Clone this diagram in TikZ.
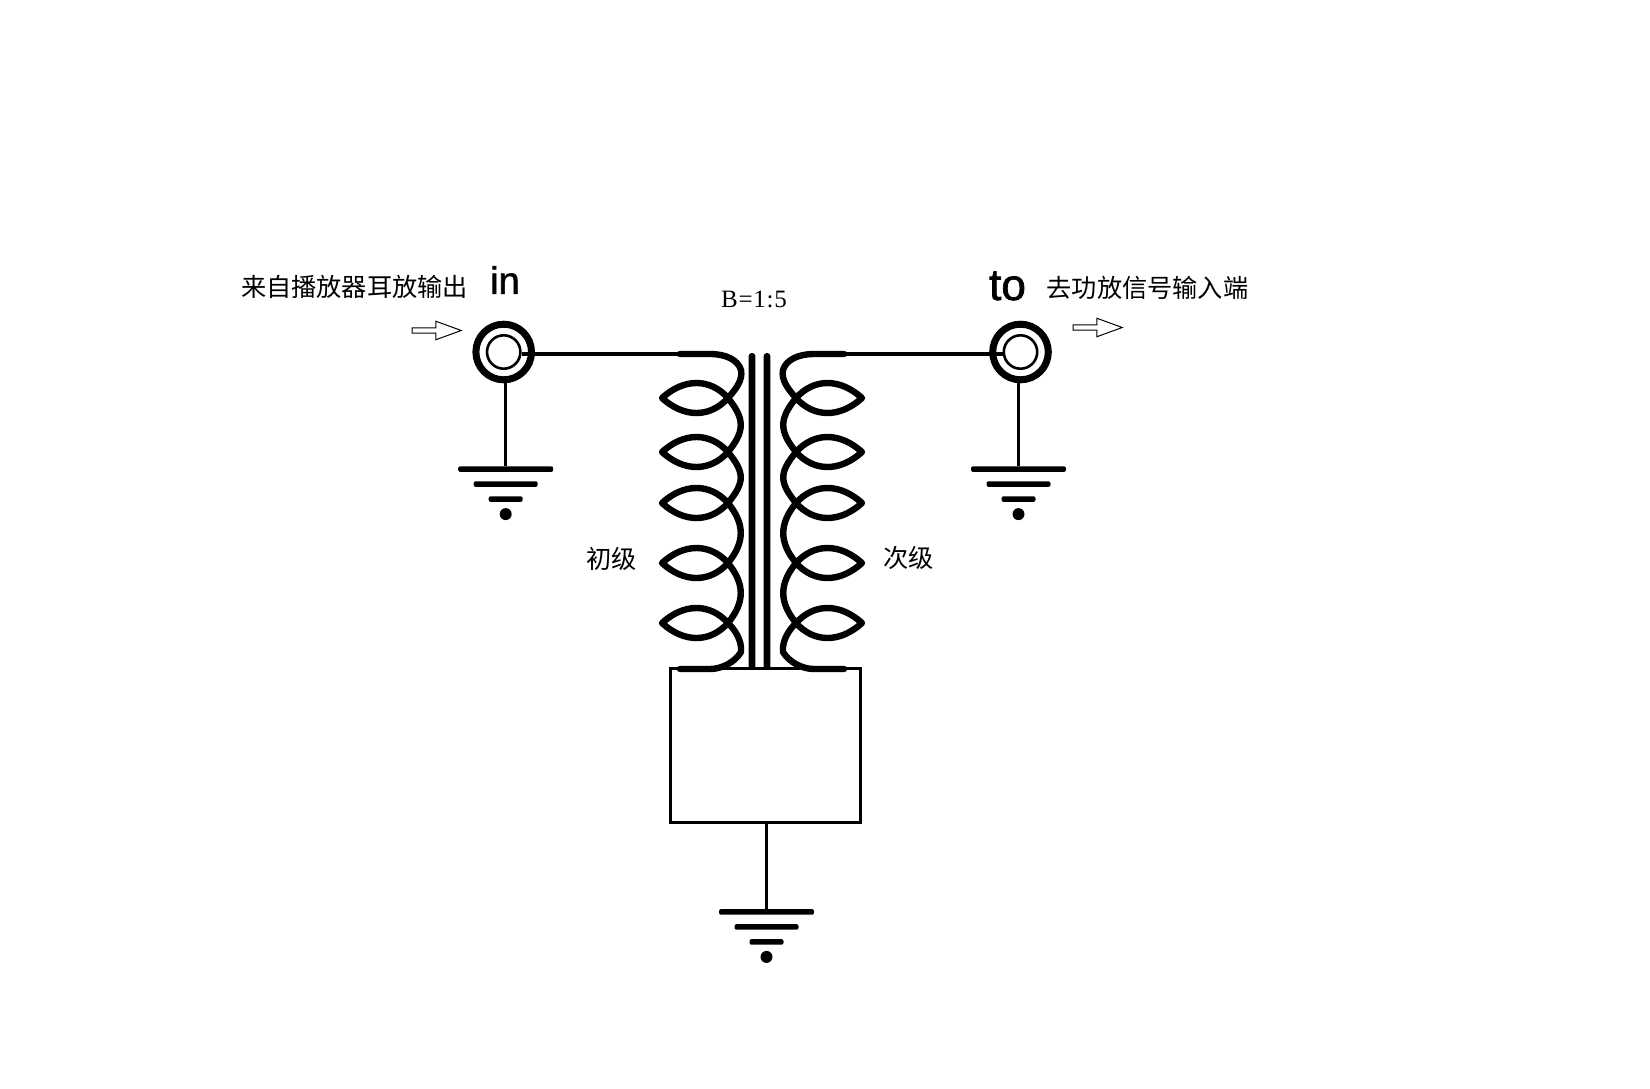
\documentclass[tikz,border=0pt]{standalone}
\usepackage{fontspec}
\setmainfont{Liberation Serif}
\newfontfamily\cjk{Noto Sans CJK SC}
\newfontfamily\portfont[FakeBold=1.6]{Liberation Sans}
\usetikzlibrary{positioning,shapes.arrows}
\tikzset{
	wire/.style={line width=1.6pt},
	coilwire/.style={line width=3.2pt, line cap=round, line join=round},
	ringmark/.style={circle, draw, line width=3.5pt, minimum size=27.8pt, inner sep=0pt},
	innermark/.style={circle, draw, line width=1.3pt, minimum size=16.7pt, inner sep=0pt},
	gndbar/.style={rectangle, fill=black, inner sep=0pt, outer sep=0pt, minimum height=2.8pt, rounded corners=1pt},
	gnddot/.style={circle, fill=black, inner sep=0pt, outer sep=0pt, minimum size=6pt},
	corebar/.style={rectangle, fill=black, inner sep=0pt, outer sep=0pt, minimum width=3.4pt, minimum height=158.5pt, rounded corners=1.6pt},
	hollowarrow/.style={single arrow, draw, line width=0.5pt, inner sep=0pt, minimum height=24.5pt, minimum width=9.25pt, single arrow head extend=0.6pt, single arrow tip angle=40},
	cnlabel/.style={font=\cjk\fontsize{12.6}{15}\selectfont, inner sep=0pt},
	coil/.pic={
		\coordinate (-head) at (-82,354);
		\coordinate (-tail) at (-82,669);
		\draw[coilwire] (-head) -- (-52,354) .. controls (-36,354) and (-24,360) .. (-21,370) .. controls (-19,380) and (-26,389) .. (-34,398)
			foreach \y/\n in {398/452,452/503,503/563,563/623} {
				.. controls (-52,\y+20) and (-78,\y+20) .. (-100,\y)
				.. controls (-78,\y-20) and (-52,\y-20) .. (-34,\y)
				.. controls (-17,\y+21) and (-17,\n-21) .. (-34,\n)
			}
			.. controls (-52,643) and (-78,643) .. (-100,623)
			.. controls (-78,603) and (-52,603) .. (-34,623)
			.. controls (-27,630) and (-20,640) .. (-21,652) .. controls (-27,662) and (-40,669) .. (-52,669) -- (-tail);
	}
}
\begin{document}
\begin{tikzpicture}[x=0.5pt,y=-0.5pt]
	\useasboundingbox (0,0) rectangle (1650,1088);
	% Input and output jacks
	\node (inring) [ringmark] at (503.7,352) {};
	\node (injack) [innermark] at (503.7,352) {};
	\node (toring) [ringmark] at (1020.5,352) {};
	\node (tojack) [innermark] at (1020.5,352) {};
	
	% Transformer core and windings
	\node (coreA) [corebar] at (752,511.5) {};
	\node (coreB) [corebar] at (767,511.5) {};
	\pic (primary) at (762,0) {coil};
	\pic[xscale=-1] (secondary) at (762,0) {coil};
	\node (box) [rectangle, draw, wire, minimum width=95pt, minimum height=77pt, inner sep=0pt] at (765.5,745.5) {};
	
	% Grounds
	\node (inbarA) [gndbar, minimum width=47.5pt, below=41.5pt of inring, xshift=1pt] {};
	\node (inbarB) [gndbar, minimum width=32pt, below=4.7pt of inbarA] {};
	\node (inbarC) [gndbar, minimum width=17pt, below=4.7pt of inbarB] {};
	\node (indot) [gnddot, below=3.1pt of inbarC] {};
	\node (tobarA) [gndbar, minimum width=47.5pt, below=41.5pt of toring, xshift=-1pt] {};
	\node (tobarB) [gndbar, minimum width=32pt, below=4.7pt of tobarA] {};
	\node (tobarC) [gndbar, minimum width=17pt, below=4.7pt of tobarB] {};
	\node (todot) [gnddot, below=3.1pt of tobarC] {};
	\node (boxbarA) [gndbar, minimum width=47.5pt, below=42.5pt of box, xshift=0.5pt] {};
	\node (boxbarB) [gndbar, minimum width=32pt, below=4.7pt of boxbarA] {};
	\node (boxbarC) [gndbar, minimum width=17pt, below=4.7pt of boxbarB] {};
	\node (boxdot) [gnddot, below=3.1pt of boxbarC] {};
	
	% Connecting everything
	\path (injack.east |- primary-head) edge [wire] (primary-head);
	\path (tojack.west |- secondary-head) edge [wire] (secondary-head);
	\path (inbarA.north |- inring.south) edge [wire] (inbarA.north);
	\path (tobarA.north |- toring.south) edge [wire] (tobarA.north);
	\path (boxbarA.north |- box.south) edge [wire] (boxbarA.north);
	
	% Labels and arrows
	\node (insource) [cnlabel] at (354.5,287) {来自播放器耳放输出};
	\node (tosink) [cnlabel] at (1147.5,288) {去功放信号输入端};
	\node (inname) [inner sep=0pt, font=\portfont\fontsize{19}{19}\selectfont] at (505,280) {in};
	\node (toname) [inner sep=0pt, font=\portfont\fontsize{22}{22}\selectfont] at (1007.5,286) {to};
	\node (ratio) [inner sep=0pt, font=\fontsize{12.5}{15}\selectfont\addfontfeature{LetterSpace=3}] at (754,299) {B=1:5};
	\node (primarylabel) [cnlabel] at (611.5,559) {初级};
	\node (secondarylabel) [cnlabel] at (908.5,557.5) {次级};
	\node (inarrow) [hollowarrow] at (433,330.5) {};
	\node (toarrow) [hollowarrow] at (1094,327.5) {};
\end{tikzpicture}
\end{document}
